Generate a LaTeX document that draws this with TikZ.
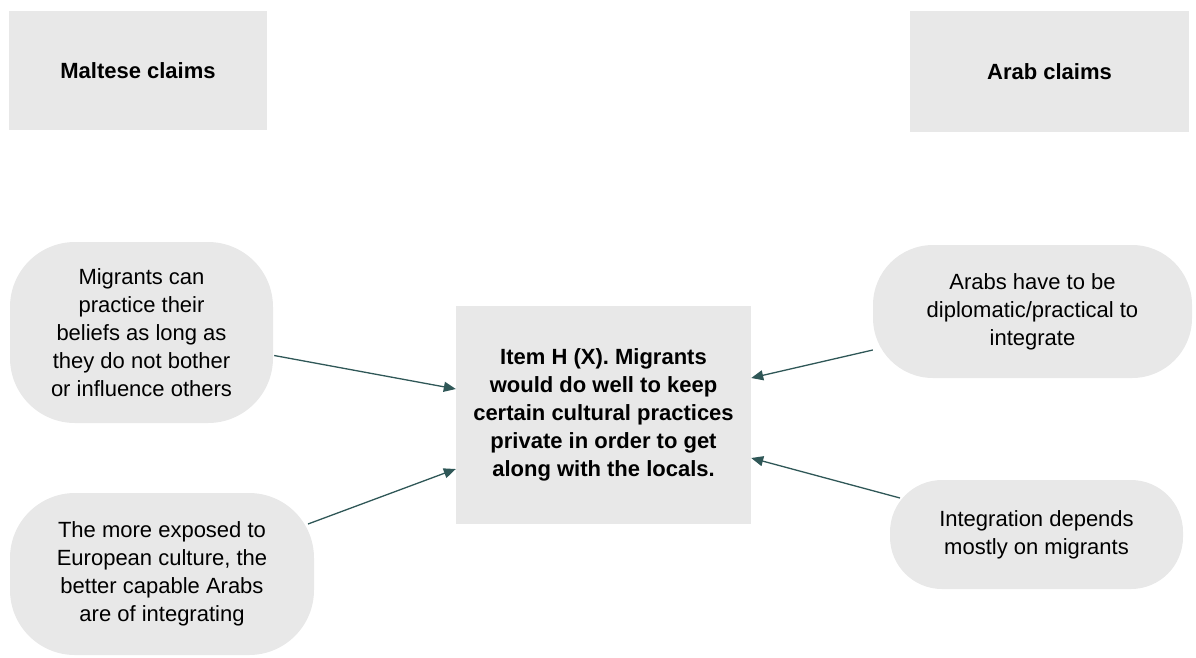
\documentclass[tikz,border=0pt]{standalone}
\usepackage{fontspec}
\setmainfont{Liberation Sans}
\usetikzlibrary{arrows.meta,calc}
\definecolor{boxgray}{HTML}{E8E8E8}
\definecolor{arrowteal}{HTML}{2F5757}
\tikzset{
  header/.style={fill=boxgray, draw=none, minimum width=#1, font=\fontsize{22}{28}\selectfont\bfseries, inner sep=0pt},
  claim/.style={fill=boxgray, draw=none, rounded corners=65pt, align=center, font=\fontsize{22}{28}\selectfont, inner sep=0pt},
  itembox/.style={fill=boxgray, draw=none, align=center, font=\fontsize{22}{28}\selectfont\bfseries, inner sep=0pt},
  link/.style={draw=arrowteal, line width=1.3pt, -{Triangle[length=12pt,width=10pt]}}
}
\begin{document}
\begin{tikzpicture}[x=1pt,y=-1pt]
\useasboundingbox (0,0) rectangle (1196,657);
% headers
\node[header=258pt, minimum height=119pt] (mal) at (138,70.5) {Maltese claims};
\node[header=279pt, minimum height=121pt] (arb) at (1049.5,71.5) {Arab claims};
% central item
\node[itembox, minimum width=295pt, minimum height=218pt] (item) at (603.5,415)
  {Item H (X). Migrants\\would do well to keep\\certain cultural practices\\private in order to get\\along with the locals.};
% claims
\node[claim, minimum width=263pt, minimum height=181pt] (tl) at (141.5,332.5)
  {Migrants can\\practice their\\beliefs as long as\\they do not bother\\or influence others};
\node[claim, minimum width=304pt, minimum height=162pt] (bl) at (162,574)
  {The more exposed to\\European culture, the\\better capable Arabs\\are of integrating};
\node[claim, rounded corners=60pt, minimum width=319pt, minimum height=133pt] (tr) at (1032.5,311.5)
  {Arabs have to be\\diplomatic/practical to\\integrate};
\node[claim, rounded corners=52pt, minimum width=293pt, minimum height=109pt] (br) at (1036.5,534.5)
  {Integration depends\\mostly on migrants};
% connectors
\draw[link] ($(tl.east)+(1,23)$) -- ($(item.west)+(0,-26)$);
\draw[link] ($(bl.center)+(146,-50)$) -- ($(item.west)+(0,54)$);
\draw[link] ($(tr.west)+(0,38.5)$) -- ($(item.east)+(0,-37)$);
\draw[link] ($(br.center)+(-136.5,-36.5)$) -- ($(item.east)+(0,43)$);
\end{tikzpicture}
\end{document}
